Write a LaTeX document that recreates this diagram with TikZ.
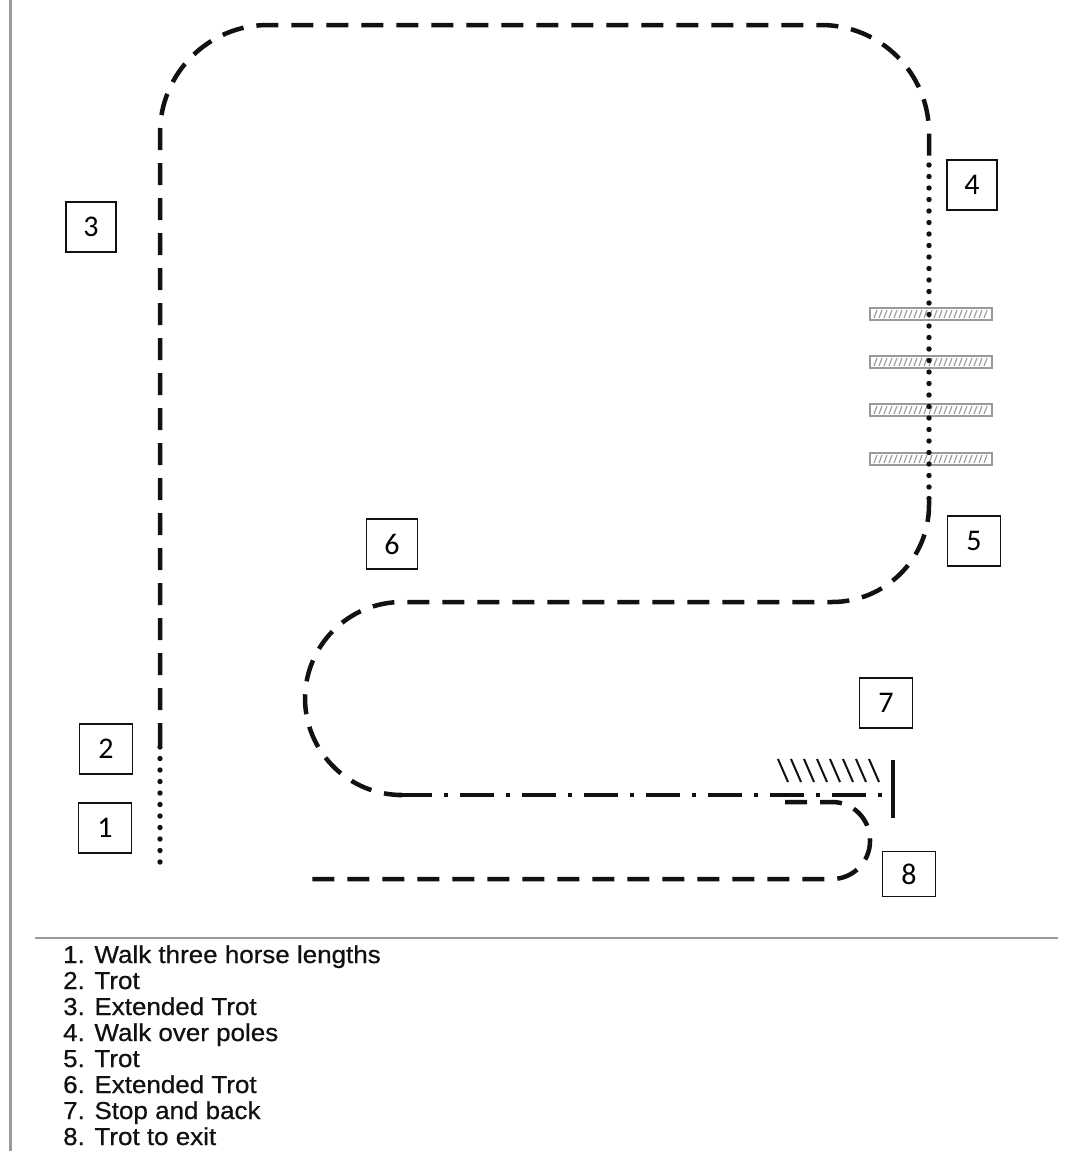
\documentclass[tikz,border=0pt]{standalone}
\usepackage{fontspec}
\setmainfont{Liberation Sans}
\newfontfamily\labelfont{Carlito}
\newfontfamily\legendfont[FakeStretch=1.06,FakeBold=0.6]{Liberation Sans}
\definecolor{arenaInk}{HTML}{111111}
\definecolor{arenaGrey}{HTML}{9A9A9A}
\tikzset{
  trotline/.style={
    line width=4.5pt,
    draw=arenaInk,
    dash pattern=on 22pt off 13pt
  },
  walkline/.style={
    line width=5.4pt,
    draw=arenaInk,
    line cap=round,
    dash pattern=on 0pt off 11.5pt
  },
  stopline/.style={
    line width=4.5pt,
    draw=arenaInk,
    dash pattern=on 34pt off 12pt on 4pt off 12pt
  },
  stepbox/.style={
    draw=arenaInk,
    line width=1.8pt,
    minimum width=53pt,
    minimum height=50pt,
    inner sep=0pt,
    font=\labelfont\fontsize{30}{33}\selectfont
  },
  polebox/.style={
    draw=arenaGrey,
    line width=1.6pt,
    fill=white
  },
  legend/.style={
    inner sep=0pt,
    text=arenaInk,
    font=\legendfont\fontsize{24.5}{26}\selectfont
  }
}

\begin{document}
\begin{tikzpicture}[x=1pt,y=-1pt]
  \useasboundingbox (0,0) rectangle (1068,1151);
  % page frame
  \draw[arenaGrey,line width=3pt] (10,0) -- (10,1151);
  \draw[arenaGrey,line width=2pt] (35,938) -- (1058,938);

  % course points
  \coordinate (start) at (160,862);
  \coordinate (trotA) at (160,745);
  \coordinate (poleTop) at (929,165);
  \coordinate (poleEnd) at (929,500);
  \coordinate (loopEnd) at (398,795);
  \coordinate (stop) at (885,795);
  \coordinate (backStart) at (785,802);
  \coordinate (exit) at (305,879);

  % poles
  \foreach \y in {314,362,410,459} {
    \draw[polebox] (870,\y-6) rectangle (992,\y+6);
    \foreach \x in {874,879,...,986}
      \draw[arenaGrey,line width=1.1pt] (\x,\y+4) -- (\x+3,\y-4);
  }

  % the course
  \draw[walkline] (start) -- (trotA);
  \draw[trotline,rounded corners=108pt] (trotA) -- (160,25) -- (929,25) -- (poleTop);
  \draw[walkline] (poleTop) -- (poleEnd);
  \draw[trotline,rounded corners=97pt] (poleEnd) -- (929,602) -- (305,602) -- (305,795) -- (loopEnd);
  \draw[stopline] (loopEnd) -- (stop);
  \draw[trotline,rounded corners=38pt] (backStart) -- (870,802) -- (870,879) -- (exit);

  % stop bar and hatching
  \draw[arenaInk,line width=4.5pt] (893,760) -- (893,818);
  \foreach \x in {778,791,...,870}
    \draw[arenaInk,line width=2pt] (\x,759) -- (\x+10,782);

  % step labels
  \node[stepbox] (lab1) at (105,828) {1};
  \node[stepbox] (lab2) at (106,749) {2};
  \node[stepbox,minimum width=50pt] (lab3) at (91,227) {3};
  \node[stepbox,minimum width=50pt] (lab4) at (972,185) {4};
  \node[stepbox] (lab5) at (974,541) {5};
  \node[stepbox,minimum width=51pt] (lab6) at (392,544) {6};
  \node[stepbox] (lab7) at (886,703) {7};
  \node[stepbox,minimum height=45pt] (lab8) at (909,874) {8};

  % legend
  \foreach \t [count=\i] in {Walk three horse lengths,Trot,Extended Trot,Walk over poles,Trot,Extended Trot,Stop and back,Trot to exit}
    \node[legend,anchor=base west] (item\i) at (63,937+26*\i) {\i. \t};
\end{tikzpicture}
\end{document}
